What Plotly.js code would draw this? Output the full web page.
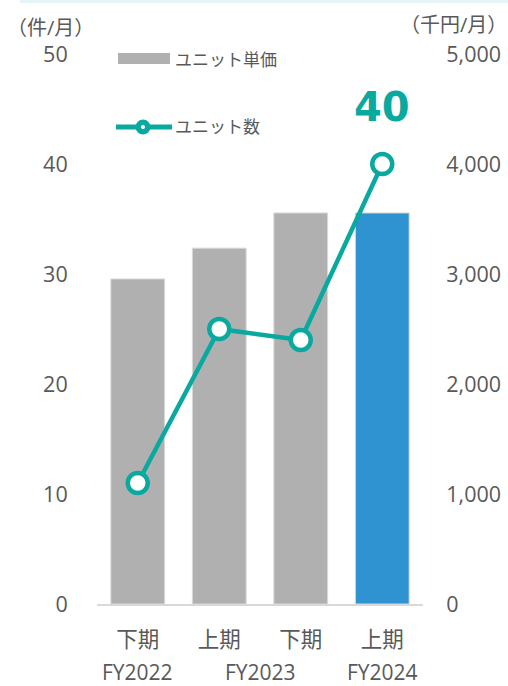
<!DOCTYPE html>
<html>
<head>
<meta charset="utf-8">
<script src="https://cdn.plot.ly/plotly-3.0.1.min.js"></script>
<style>html,body{margin:0;padding:0;background:#fff;}#chart{width:508px;height:686px;}</style>
</head>
<body>
<div id="chart"></div>
<script>
// Data
const periods = ['下期', '上期', '下期', '上期'];
const fiscalYears = ['FY2022', 'FY2023', 'FY2024'];
const fiscalYearPos = [0, 1.5, 3];
const unitPrice = [2955, 3235, 3555, 3555];   // 千円/月 (right axis)
const unitCount = [11, 25, 24, 40];           // 件/月 (left axis)
const barColors = ['#b1b0b0', '#b1b0b0', '#b1b0b0', '#2e93d0'];
const seriesNames = ['ユニット単価', 'ユニット数'];
const highlightLabel = '40';

const W = 508, H = 686, L = 97, R = 85, T = 54, B = 82;
const pw = W - L - R, ph = H - T - B;
const px = x => (x - L) / pw;
const py = y => (H - B - y) / ph;

const FONT = '"Open Sans", "Noto Sans CJK JP", sans-serif';
const BOLDFONT = 'DejaVu Sans, sans-serif';
const TXT = '#595959';
const TEAL = '#0aa9a0';
const TICK = 21.5;
const xIdx = periods.map((_, i) => i);

const traces = [
  {
    type: 'bar', x: xIdx, y: unitPrice, yaxis: 'y', name: seriesNames[0],
    marker: {color: barColors, line: {color: '#d9d9d9', width: 1}},
    hoverinfo: 'skip'
  },
  {
    type: 'scatter', mode: 'lines+markers', x: xIdx, y: unitCount, yaxis: 'y2', name: seriesNames[1],
    line: {color: TEAL, width: 4.5},
    marker: {size: 20, color: '#ffffff', line: {color: TEAL, width: 4.5}},
    hoverinfo: 'skip', cliponaxis: false
  }
];

const annotations = [
  {xref: 'paper', yref: 'paper', x: px(50), y: py(27), text: '（件/月）', showarrow: false,
   font: {family: FONT, size: 20, color: TXT}, xanchor: 'center', yanchor: 'middle'},
  {xref: 'paper', yref: 'paper', x: px(508), y: py(25), text: '（千円/月）', showarrow: false, borderpad: 0,
   font: {family: FONT, size: 20, color: TXT}, xanchor: 'right', yanchor: 'middle'},
  {xref: 'paper', yref: 'paper', x: px(173), y: py(60), text: seriesNames[0], showarrow: false,
   font: {family: FONT, size: 17, color: TXT}, xanchor: 'left', yanchor: 'middle'},
  {xref: 'paper', yref: 'paper', x: px(173), y: py(127), text: seriesNames[1], showarrow: false,
   font: {family: FONT, size: 17, color: TXT}, xanchor: 'left', yanchor: 'middle'},
  {xref: 'x', yref: 'y2', x: 3, y: unitCount[3], yshift: 57, text: '<b>' + highlightLabel + '</b>', showarrow: false,
   font: {family: BOLDFONT, size: 40, color: TEAL}, xanchor: 'center', yanchor: 'middle'}
];
fiscalYears.forEach((fy, i) => {
  annotations.push({xref: 'x', yref: 'paper', x: fiscalYearPos[i], y: py(672), text: fy, showarrow: false, borderpad: 0,
    font: {family: FONT, size: 21, color: TXT}, xanchor: 'center', yanchor: 'middle'});
});

const shapes = [
  {type: 'rect', xref: 'paper', yref: 'paper', x0: px(20), x1: px(508), y0: py(3), y1: py(0),
   fillcolor: '#e5f5f7', line: {width: 0}, layer: 'below'},
  {type: 'rect', xref: 'paper', yref: 'paper', x0: px(118), x1: px(170), y0: py(64), y1: py(53),
   fillcolor: '#b1b0b0', line: {width: 0}},
  {type: 'line', xref: 'paper', yref: 'paper', x0: px(116), x1: px(172), y0: py(127), y1: py(127),
   line: {color: TEAL, width: 5}},
  {type: 'circle', xref: 'paper', yref: 'paper', x0: px(135.5), x1: px(150.5), y0: py(134.5), y1: py(119.5),
   fillcolor: TEAL, line: {width: 0}},
  {type: 'circle', xref: 'paper', yref: 'paper', x0: px(141), x1: px(145), y0: py(129), y1: py(125),
   fillcolor: '#ffffff', line: {width: 0}}
];

const layout = {
  width: W, height: H,
  margin: {l: L, r: R, t: T, b: B},
  paper_bgcolor: '#ffffff', plot_bgcolor: '#ffffff',
  showlegend: false,
  bargap: 0.34,
  font: {family: FONT, size: TICK, color: TXT},
  xaxis: {
    tickmode: 'array', tickvals: xIdx, ticktext: periods,
    range: [-0.5, 3.5], showgrid: false, zeroline: false,
    showline: true, linecolor: '#d9d9d9', linewidth: 1.5,
    ticks: 'outside', ticklen: 16, tickcolor: 'rgba(0,0,0,0)',
    tickfont: {family: FONT, size: TICK, color: TXT}, fixedrange: true
  },
  yaxis: {
    side: 'right', range: [0, 5000], dtick: 1000, tickformat: ',d',
    showgrid: false, zeroline: false, showline: false,
    ticks: 'outside', ticklen: 18, tickcolor: 'rgba(0,0,0,0)',
    tickfont: {family: FONT, size: TICK, color: TXT}, fixedrange: true
  },
  yaxis2: {
    overlaying: 'y', side: 'left', range: [0, 50], dtick: 10,
    showgrid: false, zeroline: false, showline: false,
    ticks: 'outside', ticklen: 24, tickcolor: 'rgba(0,0,0,0)',
    tickfont: {family: FONT, size: TICK, color: TXT}, fixedrange: true
  },
  annotations: annotations,
  shapes: shapes
};

Plotly.newPlot('chart', traces, layout, {displayModeBar: false, staticPlot: true});
</script>
</body>
</html>
